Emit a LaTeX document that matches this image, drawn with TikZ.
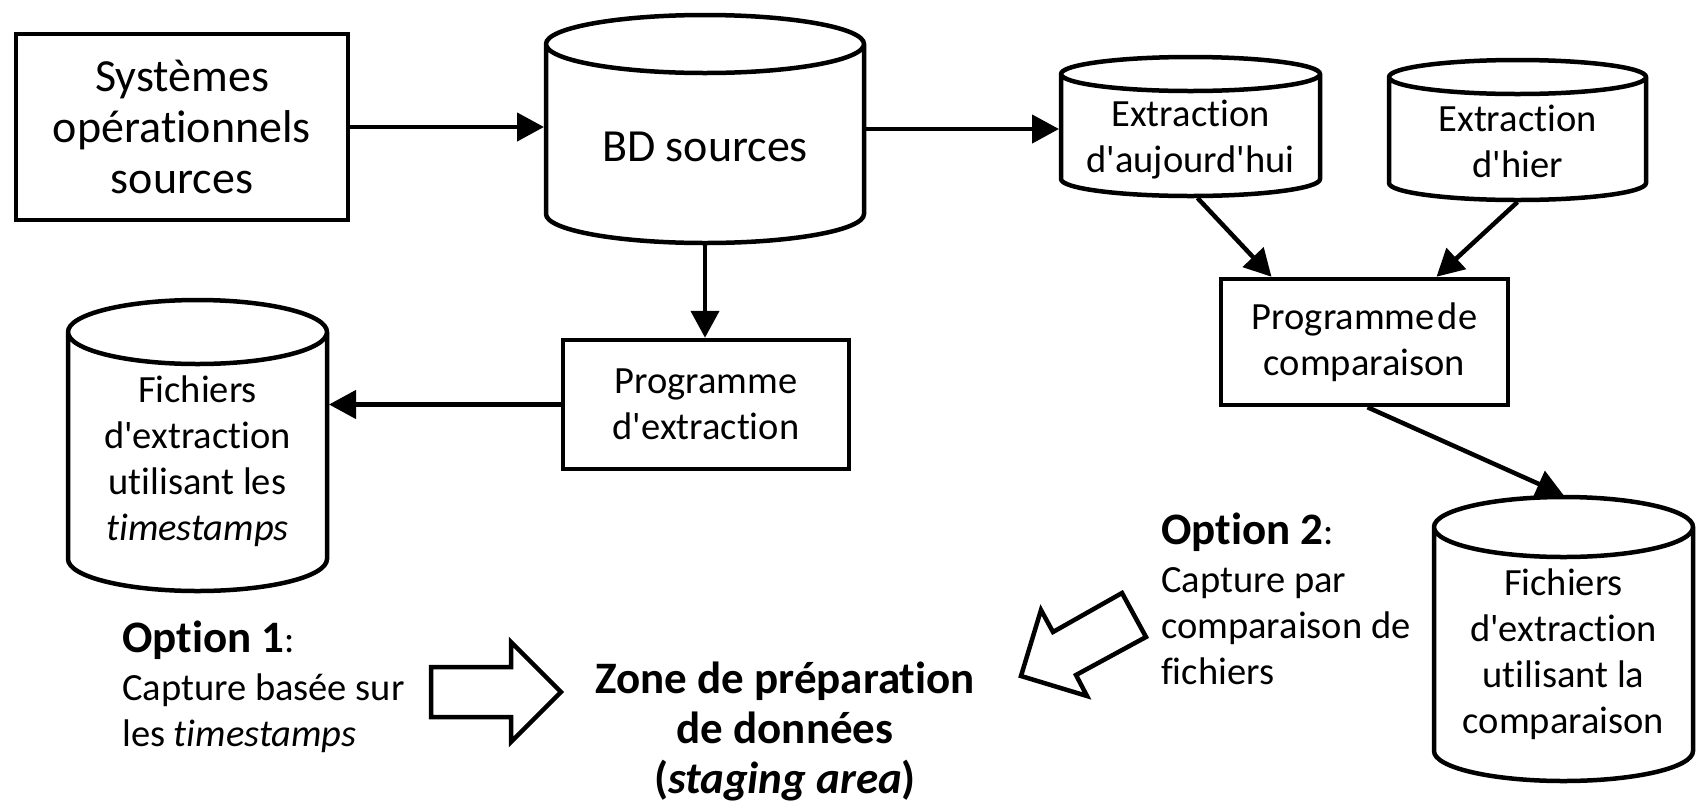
\documentclass[tikz,border=0pt]{standalone}
\usepackage{fontspec}
\setmainfont{Carlito}[Ligatures=NoCommon]
\usetikzlibrary{arrows.meta,calc}

% text sizes
\newcommand\normaltxt{\fontsize{38.5}{46}\selectfont}
\newcommand\largetxt{\fontsize{46}{51}\selectfont}
\newcommand\headtxt{\fontsize{45}{50}\selectfont\bfseries}
\newcommand\aps{\textquotesingle}

\tikzset{
  outline/.style={line width=4.5pt, draw=black},
  box/.style={outline, fill=white, align=center, inner sep=0pt, font=\normaltxt},
  cylbox/.style={inner sep=0pt, outer sep=0pt},
  cyltext/.style={align=center, inner sep=0pt, font=\normaltxt},
  link/.style={line width=4.5pt, -{Triangle[length=27pt,width=28pt]}},
  bigarrow/.style={line width=4.5pt, draw=black, fill=white, line join=miter},
  note/.style={anchor=north west, align=left, inner sep=0pt, font=\normaltxt},
}

% database drum drawn around a named node; #2 = half height of the end ellipses
\newcommand\drawcyl[2]{%
  \path[outline, fill=white]
    let \p1=([shift={(2pt,-2pt)}]#1.north west),
        \p2=([shift={(-2pt,2pt)}]#1.south east),
        \n1={(\x2-\x1)/2} in
    (\x1,\y1-#2) -- (\x1,\y2+#2)
    arc[start angle=180, end angle=360, x radius=\n1, y radius=#2]
    -- (\x2,\y1-#2)
    arc[start angle=0, end angle=180, x radius=\n1, y radius=#2]
    -- cycle
    (\x1,\y1-#2)
    arc[start angle=180, end angle=360, x radius=\n1, y radius=#2];
}

\begin{document}
\begin{tikzpicture}[x=1pt, y=-1pt]
\useasboundingbox (0,0) rectangle (1701,804);

% rectangular processes
\node[box, font=\largetxt, minimum width=332pt, minimum height=186pt] (sys) at (182,127)
  {Systèmes\\opérationnels\\sources};
\node[box, minimum width=286pt, minimum height=129pt] (prog) at (706,404.5)
  {Programme\\d\aps extraction};
\node[box, minimum width=287pt, minimum height=126pt] (comp) at (1364.5,342)
  {Programme\hspace{3pt}de\\comparaison};

% databases
\node[cylbox, minimum width=322pt, minimum height=232pt] (bd) at (705,129) {};
\drawcyl{bd}{29pt}
\node[cyltext, font=\largetxt] (bd-t) at (705,147) {BD sources};

\node[cylbox, minimum width=263pt, minimum height=143pt] (auj) at (1190.5,126.5) {};
\drawcyl{auj}{17pt}
\node[cyltext] (auj-t) at (1190.5,140) {Extraction\\d\aps aujourd\aps hui};

\node[cylbox, minimum width=261pt, minimum height=144pt] (hier) at (1517.5,130) {};
\drawcyl{hier}{17pt}
\node[cyltext] (hier-t) at (1517.5,141) {Extraction\\d\aps hier};

\node[cylbox, minimum width=263pt, minimum height=295pt] (fts) at (197.5,445.5) {};
\drawcyl{fts}{32pt}
\node[cyltext] (fts-t) at (197.5,461)
  {Fichiers\\d\aps extraction\\utilisant les\\\textit{timestamps}};

\node[cylbox, minimum width=263pt, minimum height=288pt] (fc) at (1563.5,639) {};
\drawcyl{fc}{30pt}
\node[cyltext] (fc-t) at (1563.5,654)
  {Fichiers\\d\aps extraction\\utilisant la\\comparaison};

% data flow
\draw[link] (sys.east) -- (sys.east -| bd.west);
\draw[link] (bd.east) -- (bd.east -| auj.west);
\draw[link] (bd.south) -- (bd.south |- prog.north);
\draw[link] (prog.west) -- (prog.west -| fts.east);
\draw[link] ([xshift=7pt]auj.south) -- ([xshift=-93pt]comp.north);
\draw[link] (hier.south) -- ([xshift=72pt]comp.north);
\draw[link] ([xshift=3pt]comp.south) -- (fc.north);

% staging area and the two capture options
\node[align=center, inner sep=0pt, font=\headtxt] (zone) at (785,731)
  {Zone de préparation\\de données\\(\textit{staging area})};

\node[note] (opt1) at (122,621)
  {{\headtxt Option 1}:\\[2pt]Capture basée sur\\les \textit{timestamps}};
\node[note] (opt2) at (1161,513)
  {{\headtxt Option 2}:\\[2pt]Capture par\\comparaison de\\fichiers};

\draw[bigarrow] (431,667) -- (511,667) -- (511,642) -- (561,692)
  -- (511,742) -- (511,717) -- (431,717) -- cycle;
\draw[bigarrow] (1122,593) -- (1053,632) -- (1041,610) -- (1021,676)
  -- (1087,696) -- (1076,675) -- (1146,637) -- cycle;
\end{tikzpicture}
\end{document}
